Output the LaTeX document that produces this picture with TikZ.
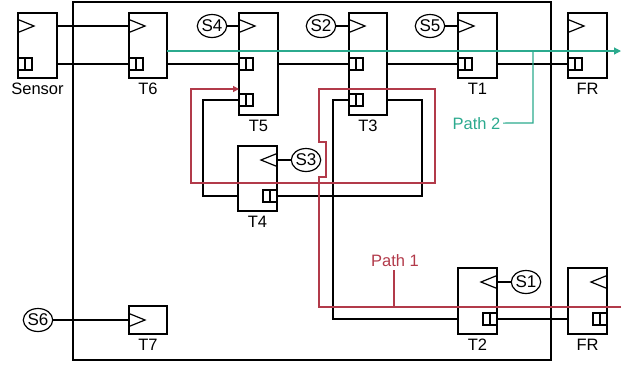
\documentclass[tikz,border=0pt]{standalone}
\usepackage{fontspec}
\setmainfont{Liberation Sans}
\usetikzlibrary{arrows.meta,shapes.geometric,calc}
\definecolor{pathred}{HTML}{B23A4A}
\definecolor{pathteal}{HTML}{2BAA8E}
\begin{document}
\begin{tikzpicture}[x=1pt,y=-1pt,line width=1.2pt,
  blk/.style={draw,rectangle,inner sep=0pt,outer sep=0pt,anchor=north west},
  sig/.style={draw,ellipse,inner sep=0pt,minimum width=26pt,minimum height=23pt,font=\fontsize{17}{17}\selectfont},
  lbl/.style={inner sep=0pt,anchor=base,font=\fontsize{16.5}{16.5}\selectfont},
  wire/.style={draw=black},
  redp/.style={draw=pathred},
  tealp/.style={draw=pathteal},
  tri r/.pic={\draw (0,-6.5) -- (16,0) -- (0,6.5);},
  tri l/.pic={\draw (0,-6.5) -- (-16,0) -- (0,6.5);},
  port r/.pic={\draw (0,-6) rectangle (14,6); \draw (7,-6) -- (7,6);},
  port l/.pic={\draw (0,-6) rectangle (-14,6); \draw (-7,-6) -- (-7,6);}
]
\useasboundingbox (0,0) rectangle (630,368);

% outer frame
\draw (73,2) rectangle (551,360);

% blocks
\node[blk,minimum width=39,minimum height=65] (Sensor) at (18,13) {};
\node[blk,minimum width=38,minimum height=65] (T6) at (129,13) {};
\node[blk,minimum width=39,minimum height=102] (T5) at (239,13) {};
\node[blk,minimum width=38,minimum height=102] (T3) at (349,13) {};
\node[blk,minimum width=39,minimum height=65] (T1) at (458,13) {};
\node[blk,minimum width=39,minimum height=65] (FRa) at (568,13) {};
\node[blk,minimum width=39,minimum height=65] (T4) at (238,146) {};
\node[blk,minimum width=39,minimum height=66] (T2) at (458,268) {};
\node[blk,minimum width=39,minimum height=66] (FRb) at (568,268) {};
\node[blk,minimum width=38,minimum height=28] (T7) at (129,306) {};

% block labels
\node[lbl] (lSensor) at (37.5,94) {Sensor};
\node[lbl] (lT6) at (148,94) {T6};
\node[lbl] (lT5) at (258.5,131) {T5};
\node[lbl] (lT3) at (368,131) {T3};
\node[lbl] (lT1) at (477.5,94) {T1};
\node[lbl] (lFRa) at (587.5,94) {FR};
\node[lbl] (lT4) at (257.5,227) {T4};
\node[lbl] (lT2) at (477.5,350) {T2};
\node[lbl] (lFRb) at (587.5,350) {FR};
\node[lbl] (lT7) at (148,350) {T7};

% clock triangles
\pic at (18,26) {tri r};
\pic at (129,26) {tri r};
\pic at (239,26) {tri r};
\pic at (349,26) {tri r};
\pic at (458,26) {tri r};
\pic at (568,26) {tri r};
\pic at (277,160) {tri l};
\pic at (497,282) {tri l};
\pic at (607,282) {tri l};
\pic at (129,320) {tri r};

% ports
\pic at (18,64) {port r};
\pic at (129,64) {port r};
\pic at (239,64) {port r};
\pic at (239,100) {port r};
\pic at (349,64) {port r};
\pic at (349,100) {port r};
\pic at (458,64) {port r};
\pic at (568,64) {port r};
\pic at (277,196) {port l};
\pic at (497,319) {port l};
\pic at (607,319) {port l};

% signal sources
\node[sig] (S4) at (212,26) {S4};
\node[sig] (S2) at (321,26) {S2};
\node[sig] (S5) at (430,26) {S5};
\node[sig] (S3) at (306,160) {S3};
\node[sig] (S1) at (526,282) {S1};
\node[sig] (S6) at (38,320) {S6};

% signal wires
\draw[wire] (S4) -- (S4 -| T5.west);
\draw[wire] (S2) -- (S2 -| T3.west);
\draw[wire] (S5) -- (S5 -| T1.west);
\draw[wire] (S3) -- (S3 -| T4.east);
\draw[wire] (S1) -- (S1 -| T2.east);
\draw[wire] (S6) -- (S6 -| T7.west);

% data wires
\draw[wire] (Sensor.east |- 0,26) -- (T6.west |- 0,26);
\draw[wire] (Sensor.east |- 0,64) -- (T6.west |- 0,64);
\draw[wire] (T6.east |- 0,64) -- (T5.west |- 0,64);
\draw[wire] (T5.east |- 0,64) -- (T3.west |- 0,64);
\draw[wire] (T3.east |- 0,64) -- (T1.west |- 0,64);
\draw[wire] (T1.east |- 0,64) -- (FRa.west |- 0,64);
\draw[wire] (T5.west |- 0,100) -- (203,100) -- (203,196) -- (T4.west |- 0,196);
\draw[wire] (T4.east |- 0,196) -- (422,196) -- (422,100) -- (T3.east |- 0,100);
\draw[wire] (T3.west |- 0,100) -- (333,100) -- (333,319) -- (T2.west |- 0,319);
\draw[wire] (T2.east |- 0,319) -- (FRb.west |- 0,319);

% path 2 (teal)
\coordinate (tealend) at (621,51);
\draw[tealp,-{Triangle[length=7pt,width=7pt]}] (T6.east |- 0,51) -- (tealend);
\node[lbl,text=pathteal,anchor=base east] (P2) at (501,129) {Path 2};
\draw[tealp] (P2.east) ++(2,0) -- (533,123) -- (533,51);

% path 1 (red)
\coordinate (redstart) at (621,307);
\draw[redp,-{Triangle[length=6pt,width=6pt]}] (redstart) -- (319,307) -- (319,177) -- (326,177)
  -- (326,142) -- (319,142) -- (319,89) -- (435,89) -- (435,183) -- (191,183) -- (191,89)
  -- (T5.west |- 0,89);
\node[lbl,text=pathred] (P1) at (395,266) {Path 1};
\draw[redp] (394,270) -- (394,307);
\end{tikzpicture}
\end{document}
